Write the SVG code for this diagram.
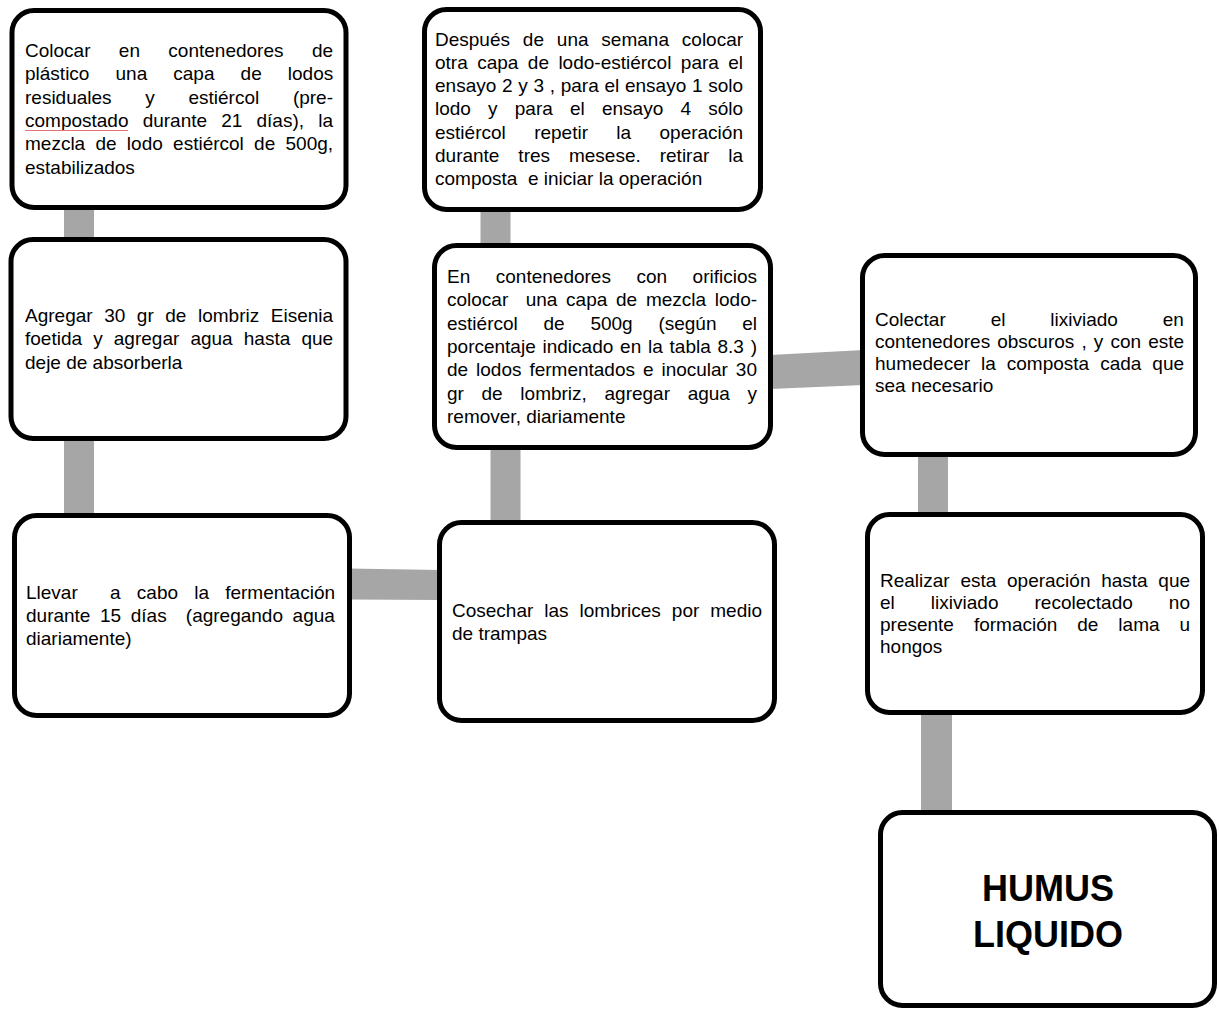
<svg xmlns="http://www.w3.org/2000/svg" width="1219" height="1009" viewBox="0 0 1219 1009">
<style>
.box{fill:#fff;stroke:#000;stroke-width:5}
.con{fill:#a6a6a6}
.t{font-family:"Liberation Sans",Arial,sans-serif;font-size:19px;fill:#000}
.b{font-family:"Liberation Sans",Arial,sans-serif;font-size:36px;font-weight:bold;fill:#000}
</style>
<rect width="1219" height="1009" fill="#fff"/>
<g id="connectors">
<rect class="con" x="64" y="205" width="30" height="38"/>
<rect class="con" x="64" y="436" width="30" height="82"/>
<polygon class="con" points="348,568.5 440,570 440,600 348,599.5"/>
<rect class="con" x="490.5" y="444" width="30" height="80"/>
<rect class="con" x="480.5" y="206" width="30" height="42"/>
<polygon class="con" points="770,355 864,350 864,385 770,389"/>
<rect class="con" x="918" y="452" width="30" height="65"/>
<rect class="con" x="921" y="711" width="31" height="104"/>
</g>
<g id="n1">
<rect class="box" x="12" y="10.5" width="334" height="197" rx="22"/>
<text class="t" x="25" y="57" word-spacing="23.1">Colocar en contenedores de</text>
<text class="t" x="25" y="80.3" word-spacing="20.8">plástico una capa de lodos</text>
<text class="t" x="25" y="103.6" word-spacing="28.4">residuales y estiércol (pre-</text>
<text class="t" x="25" y="126.9" word-spacing="8.87">compostado durante 21 días), la</text>
<text class="t" x="25" y="150.2" word-spacing="5">mezcla de lodo estiércol de 500g,</text>
<text class="t" x="25" y="173.5">estabilizados</text>
<line x1="25" y1="130.5" x2="128" y2="130.5" stroke="#e57373" stroke-width="1"/>
</g>
<g id="n2">
<rect class="box" x="11" y="239.5" width="335" height="199" rx="22"/>
<text class="t" x="25" y="322" word-spacing="6.28">Agregar 30 gr de lombriz Eisenia</text>
<text class="t" x="25" y="345.3" word-spacing="5.84">foetida y agregar agua hasta que</text>
<text class="t" x="25" y="368.6">deje de absorberla</text>
</g>
<g id="n3">
<rect class="box" x="14.5" y="515.5" width="335" height="200" rx="22"/>
<text class="t" x="26" y="598.5" word-spacing="10.9" xml:space="preserve">Llevar  a cabo la fermentación</text>
<text class="t" x="26" y="621.8" word-spacing="4.3" xml:space="preserve">durante 15 días  (agregando agua</text>
<text class="t" x="26" y="645.1">diariamente)</text>
</g>
<g id="n4">
<rect class="box" x="439.5" y="522.5" width="335" height="198" rx="22"/>
<text class="t" x="452" y="617" word-spacing="5.7">Cosechar las lombrices por medio</text>
<text class="t" x="452" y="640.3">de trampas</text>
</g>
<g id="n5">
<rect class="box" x="434.5" y="245.5" width="336" height="202" rx="22"/>
<text class="t" x="447" y="283" word-spacing="20.25">En contenedores con orificios</text>
<text class="t" x="447" y="306.3" word-spacing="3.44" xml:space="preserve">colocar  una capa de mezcla lodo-</text>
<text class="t" x="447" y="329.6" word-spacing="20.47">estiércol de 500g (según el</text>
<text class="t" x="447" y="352.9" word-spacing="1.5">porcentaje indicado en la tabla 8.3 )</text>
<text class="t" x="447" y="376.2" word-spacing="2.64">de lodos fermentados e inocular 30</text>
<text class="t" x="447" y="399.5" word-spacing="12.38">gr de lombriz, agregar agua y</text>
<text class="t" x="447" y="422.8">remover, diariamente</text>
</g>
<g id="n6">
<rect class="box" x="424.5" y="9.5" width="336" height="200" rx="22"/>
<text class="t" x="435" y="45.5" word-spacing="7.57">Después de una semana colocar</text>
<text class="t" x="435" y="68.8" word-spacing="4.16">otra capa de lodo-estiércol para el</text>
<text class="t" x="435" y="92.1" word-spacing="0.43">ensayo 2 y 3 , para el ensayo 1 solo</text>
<text class="t" x="435" y="115.4" word-spacing="11.9">lodo y para el ensayo 4 sólo</text>
<text class="t" x="435" y="138.7" word-spacing="23.1">estiércol repetir la operación</text>
<text class="t" x="435" y="162" word-spacing="13.65">durante tres mesese. retirar la</text>
<text class="t" x="435" y="185.3" xml:space="preserve">composta  e iniciar la operación</text>
</g>
<g id="n7">
<rect class="box" x="862.5" y="255.5" width="333" height="199" rx="22"/>
<text class="t" x="875" y="326" word-spacing="39.6">Colectar el lixiviado en</text>
<text class="t" x="875" y="348" word-spacing="1.82">contenedores obscuros , y con este</text>
<text class="t" x="875" y="370" word-spacing="5.7">humedecer la composta cada que</text>
<text class="t" x="875" y="392">sea necesario</text>
</g>
<g id="n8">
<rect class="box" x="867.5" y="514.5" width="335" height="198" rx="22"/>
<text class="t" x="880" y="587" word-spacing="5.42">Realizar esta operación hasta que</text>
<text class="t" x="880" y="609" word-spacing="30.8">el lixiviado recolectado no</text>
<text class="t" x="880" y="631" word-spacing="14.67">presente formación de lama u</text>
<text class="t" x="880" y="653">hongos</text>
</g>
<g id="n9">
<rect class="box" x="880.5" y="812.5" width="334" height="193" rx="22"/>
<text class="b" x="1048" y="901" text-anchor="middle">HUMUS</text>
<text class="b" x="1048" y="947" text-anchor="middle">LIQUIDO</text>
</g>
</svg>
